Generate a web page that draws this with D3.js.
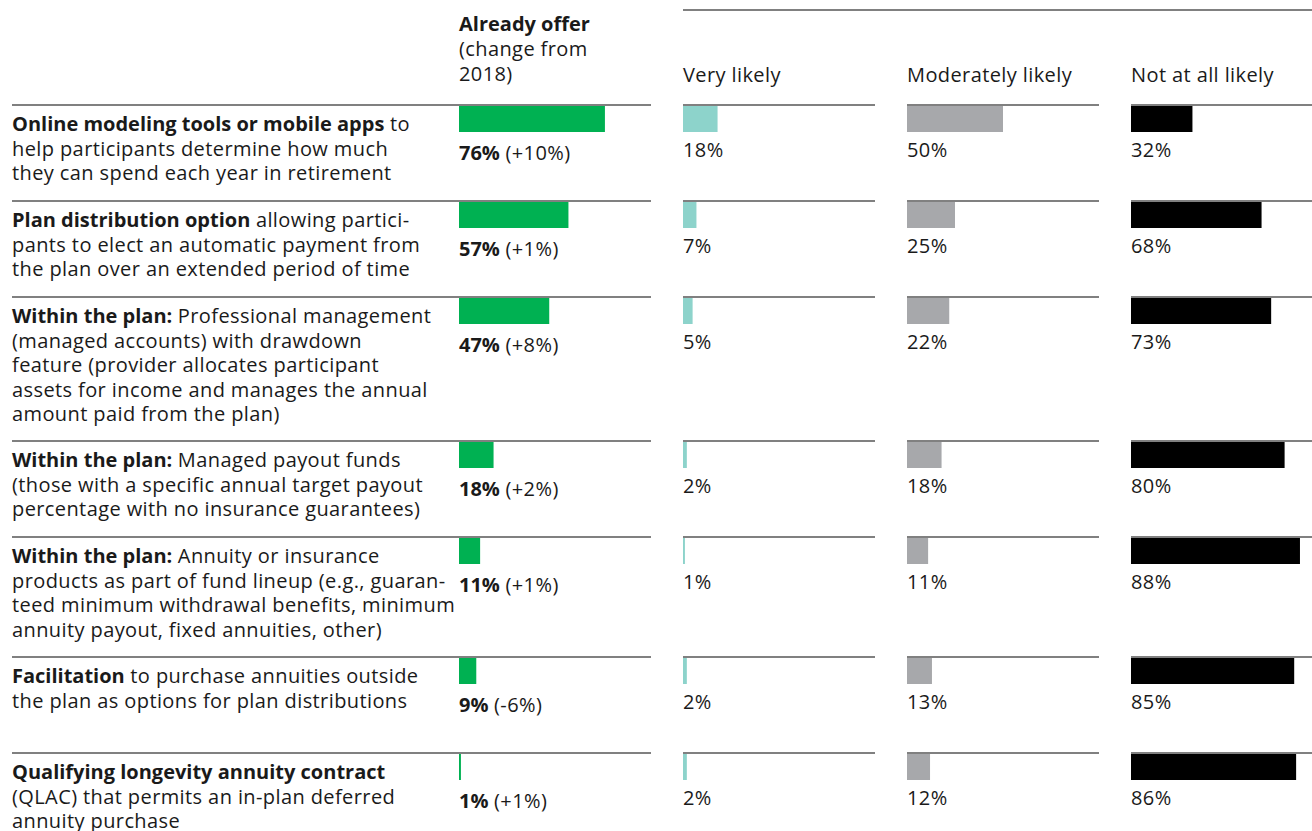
<!DOCTYPE html>
<html>
<head>
  <meta charset="utf-8">
  <title>Retirement income offerings</title>
  <style>
    body { margin: 0; background: #fff; }
    svg text { font-family: "Open Sans", sans-serif; fill: #1a1a1a; font-size: 20px; letter-spacing: 0.4px; }
    svg tspan.b { font-weight: 700; letter-spacing: 0; }
  </style>
</head>
<body>
  <div id="chart"></div>

  <script src="https://d3js.org/d3.v7.min.js"></script>
  <script>
    // Data
    const categoryBold = [
      "Online modeling tools or mobile apps",
      "Plan distribution option",
      "Within the plan:",
      "Within the plan:",
      "Within the plan:",
      "Facilitation",
      "Qualifying longevity annuity contract"
    ];
    const categoryLines = [
      ["Online modeling tools or mobile apps to", "help participants determine how much", "they can spend each year in retirement"],
      ["Plan distribution option allowing partici-", "pants to elect an automatic payment from", "the plan over an extended period of time"],
      ["Within the plan: Professional management", "(managed accounts) with drawdown", "feature (provider allocates participant", "assets for income and manages the annual", "amount paid from the plan)"],
      ["Within the plan: Managed payout funds", "(those with a specific annual target payout", "percentage with no insurance guarantees)"],
      ["Within the plan: Annuity or insurance", "products as part of fund lineup (e.g., guaran-", "teed minimum withdrawal benefits, minimum", "annuity payout, fixed annuities, other)"],
      ["Facilitation to purchase annuities outside", "the plan as options for plan distributions"],
      ["Qualifying longevity annuity contract", "(QLAC) that permits an in-plan deferred", "annuity purchase"]
    ];
    const alreadyOffer = [76, 57, 47, 18, 11, 9, 1];
    const changeFrom2018 = ["+10%", "+1%", "+8%", "+2%", "+1%", "-6%", "+1%"];
    const likelihoodLabels = ["Very likely", "Moderately likely", "Not at all likely"];
    const veryLikely = [18, 7, 5, 2, 1, 2, 2];
    const moderatelyLikely = [50, 25, 22, 18, 11, 13, 12];
    const notAtAllLikely = [32, 68, 73, 80, 88, 85, 86];

    const width = 1312, height = 831;
    const lineH = 24.5;
    const colColors = ["#8dd3cb", "#a7a8ab", "#000000"];
    const offerColor = "#00b152";
    const ruleColor = "#808080";

    const svg = d3.select("#chart").append("svg")
      .attr("width", width)
      .attr("height", height);

    // Column scales (each column is 192px for 0-100%)
    const colX = [459, 683, 907, 1131];
    const colW = 192;
    const x = d3.scaleLinear().domain([0, 100]).range([0, colW]);

    // Row positions
    const rowHeights = categoryLines.map(l => (Math.max(l.length, 3) + 1) * 24);
    const rowTop = [];
    let acc = 105;
    rowHeights.forEach(h => { rowTop.push(acc); acc += h; });

    // Top header rule
    svg.append("line")
      .attr("x1", colX[1]).attr("x2", width)
      .attr("y1", 10).attr("y2", 10)
      .attr("stroke", ruleColor).attr("stroke-width", 2);

    // Header: Already offer
    const hdr = svg.append("text").attr("x", colX[0]);
    hdr.append("tspan").attr("class", "b").attr("x", colX[0]).attr("y", 31).text("Already offer");
    hdr.append("tspan").attr("x", colX[0]).attr("y", 56).text("(change from");
    hdr.append("tspan").attr("x", colX[0]).attr("y", 81).text("2018)");

    svg.selectAll("text.colhead")
      .data(likelihoodLabels)
      .join("text")
      .attr("class", "colhead")
      .attr("x", (d, i) => colX[i + 1])
      .attr("y", 82)
      .text(d => d);

    const rows = svg.selectAll("g.row")
      .data(categoryLines)
      .join("g")
      .attr("class", "row")
      .attr("transform", (d, i) => `translate(0,${rowTop[i]})`);

    // Row rules
    rows.append("line")
      .attr("x1", 12).attr("x2", colX[0] + colW)
      .attr("y1", 0).attr("y2", 0)
      .attr("stroke", ruleColor).attr("stroke-width", 2);
    [1, 2, 3].forEach(c => {
      rows.append("line")
        .attr("x1", colX[c]).attr("x2", Math.min(colX[c] + colW, width))
        .attr("y1", 0).attr("y2", 0)
        .attr("stroke", ruleColor).attr("stroke-width", 2);
    });

    // Row labels
    rows.each(function (lines, i) {
      const t = d3.select(this).append("text");
      const bold = categoryBold[i];
      lines.forEach((ln, j) => {
        const y = 26 + j * lineH;
        if (j === 0 && ln.startsWith(bold)) {
          t.append("tspan").attr("class", "b").attr("x", 12).attr("y", y).text(bold);
          const rest = ln.slice(bold.length);
          if (rest) t.append("tspan").text(rest);
        } else {
          t.append("tspan").attr("x", 12).attr("y", y).text(ln);
        }
      });
    });

    // Already offer bars
    rows.append("rect")
      .attr("x", colX[0]).attr("y", 1)
      .attr("width", (d, i) => x(alreadyOffer[i]))
      .attr("height", 26)
      .attr("fill", offerColor);
    const ol = rows.append("text").attr("x", colX[0]).attr("y", 55);
    ol.append("tspan").attr("class", "b").text((d, i) => alreadyOffer[i] + "%");
    ol.append("tspan").text((d, i) => " (" + changeFrom2018[i] + ")");

    // Likelihood columns
    [veryLikely, moderatelyLikely, notAtAllLikely].forEach((series, c) => {
      rows.append("rect")
        .attr("x", colX[c + 1]).attr("y", 1)
        .attr("width", (d, i) => x(series[i]))
        .attr("height", 26)
        .attr("fill", colColors[c]);
      rows.append("text")
        .attr("x", colX[c + 1]).attr("y", 52)
        .text((d, i) => series[i] + "%");
    });
  </script>
</body>
</html>
